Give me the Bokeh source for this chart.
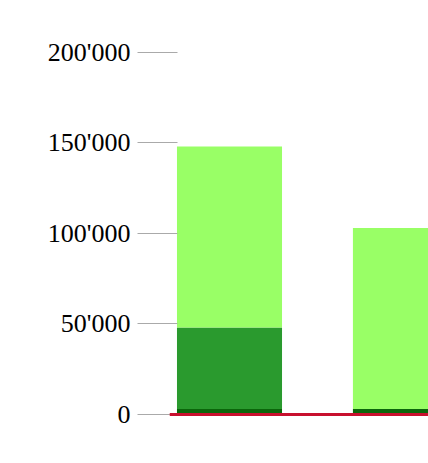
from bokeh.plotting import figure
from bokeh.models import ColumnDataSource, FixedTicker, Span, Range1d
from bokeh.embed import file_html
from bokeh.resources import INLINE

categories = ["A", "B"]
base = [3000, 3000]
middle = [45000, 0]
top = [100000, 100000]
tick_values = [0, 50000, 100000, 150000, 200000]
tick_labels = ["0", "50'000", "100'000", "150'000", "200'000"]

x = list(range(len(categories)))
source = ColumnDataSource(dict(x=x, base=base, middle=middle, top=top))

p = figure(width=428, height=463, output_backend="svg", toolbar_location=None,
           x_range=Range1d(-0.341, 1.131), y_range=Range1d(-22652, 224309),
           min_border_left=169, min_border_right=0, min_border_top=8, min_border_bottom=8)

p.vbar_stack(["base", "middle", "top"], x="x", width=0.597, source=source,
             color=["#0b660b", "#2a9a2e", "#99ff66"], line_color=None)

p.add_layout(Span(location=0, dimension="width", line_color="#c8102e", line_width=3))

p.xaxis.visible = False
p.xgrid.visible = False
p.ygrid.visible = False
p.outline_line_color = None

ya = p.yaxis[0]
ya.ticker = FixedTicker(ticks=tick_values)
ya.major_label_overrides = {v: l for v, l in zip(tick_values, tick_labels)}
ya.axis_line_color = None
ya.minor_tick_line_color = None
ya.major_tick_out = 32
ya.major_tick_in = 8
ya.major_tick_line_color = "#aaaaaa"
ya.major_tick_line_width = 1
ya.major_label_standoff = 7
ya.major_label_text_font = "Liberation Serif"
ya.major_label_text_font_size = "26px"
ya.major_label_text_color = "#000000"

open("out.html", "w").write(file_html(p, INLINE))
